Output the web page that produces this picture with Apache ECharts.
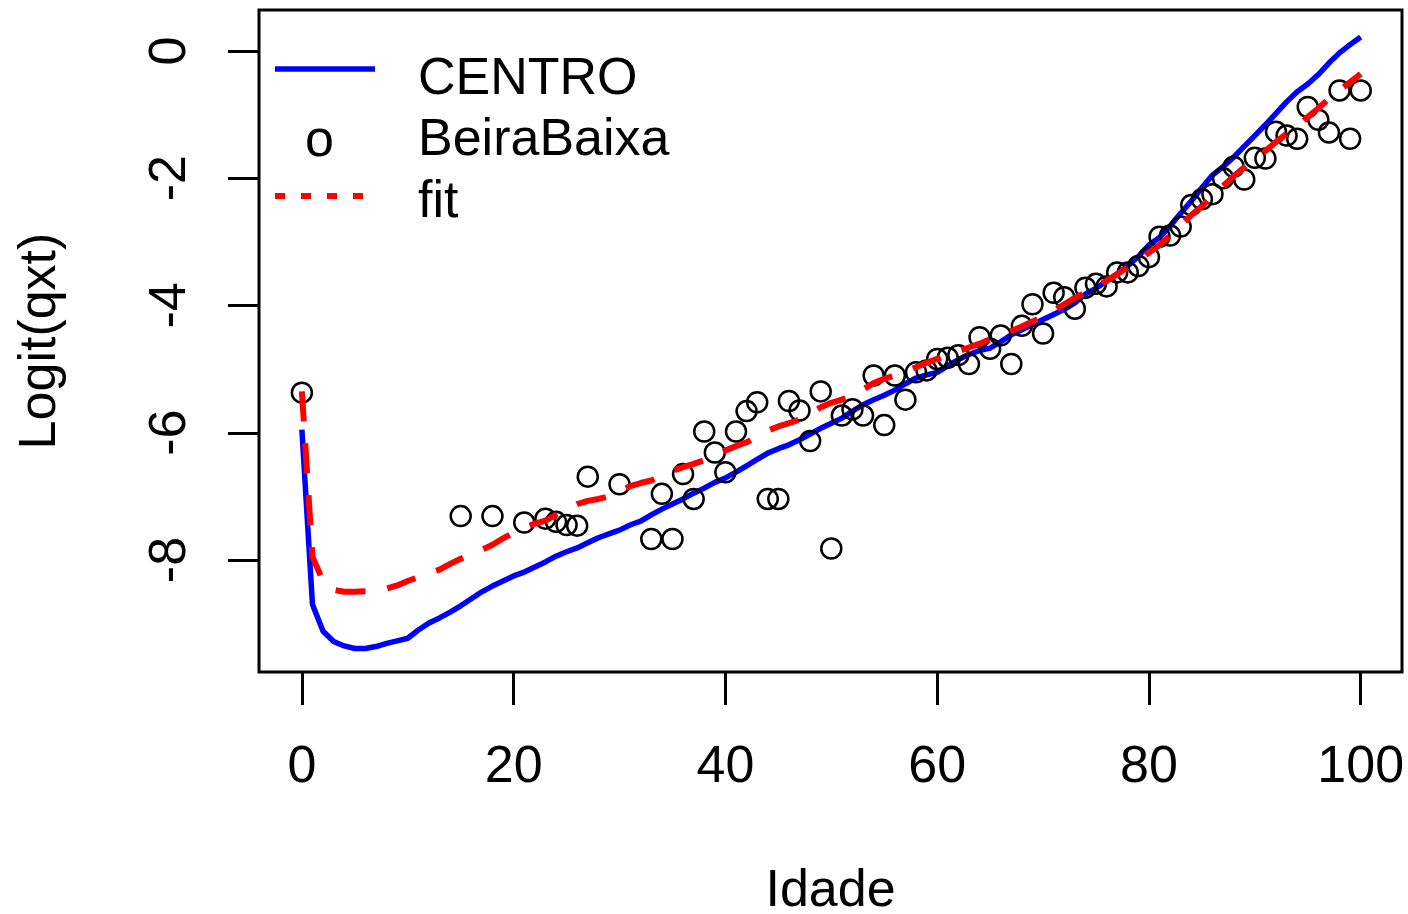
<!DOCTYPE html>
<html>
<head>
<meta charset="utf-8">
<title>Logit(qxt) por Idade</title>
<script src="https://cdn.jsdelivr.net/npm/echarts@6/dist/echarts.min.js"></script>
<style>
  html, body { margin: 0; padding: 0; background: #ffffff; }
  #chart { width: 1408px; height: 914px; }
</style>
</head>
<body>
<div id="chart"></div>
<script>
// Ages 0..100 for the two curves
const ages = Array.from({ length: 101 }, (_, i) => i);

// CENTRO region logit curve
const centroVals = [
  -5.95, -8.70, -9.12, -9.28, -9.35, -9.39, -9.39, -9.36, -9.31, -9.27,
  -9.23, -9.10, -8.99, -8.91, -8.82, -8.72, -8.61, -8.50, -8.41, -8.33,
  -8.25, -8.19, -8.11, -8.03, -7.94, -7.87, -7.81, -7.73, -7.65, -7.59,
  -7.53, -7.45, -7.39, -7.29, -7.20, -7.12, -7.04, -6.95, -6.87, -6.78,
  -6.71, -6.62, -6.52, -6.42, -6.32, -6.25, -6.19, -6.11, -6.02, -5.93,
  -5.85, -5.77, -5.66, -5.56, -5.48, -5.41, -5.33, -5.23, -5.14, -5.09,
  -5.05, -4.95, -4.85, -4.77, -4.71, -4.67, -4.57, -4.46, -4.38, -4.30,
  -4.22, -4.14, -4.06, -3.96, -3.82, -3.73, -3.62, -3.50, -3.38, -3.23,
  -3.05, -2.93, -2.75, -2.55, -2.36, -2.15, -1.95, -1.82, -1.67, -1.50,
  -1.33, -1.16, -0.98, -0.80, -0.64, -0.52, -0.37, -0.19, -0.03, 0.10,
  0.22
];

// Fitted curve for Beira Baixa
const fitVals = [
  -5.35, -7.95, -8.33, -8.47, -8.50, -8.50, -8.49, -8.48, -8.45, -8.40,
  -8.33, -8.27, -8.21, -8.15, -8.06, -7.98, -7.91, -7.84, -7.76, -7.66,
  -7.57, -7.49, -7.43, -7.38, -7.29, -7.20, -7.12, -7.07, -7.04, -7.00,
  -6.92, -6.84, -6.79, -6.75, -6.68, -6.60, -6.54, -6.49, -6.43, -6.35,
  -6.28, -6.21, -6.15, -6.06, -5.97, -5.90, -5.85, -5.79, -5.70, -5.60,
  -5.53, -5.48, -5.42, -5.32, -5.22, -5.15, -5.10, -5.04, -4.97, -4.90,
  -4.84, -4.78, -4.72, -4.66, -4.60, -4.53, -4.46, -4.40, -4.33, -4.25,
  -4.18, -4.08, -3.98, -3.88, -3.80, -3.71, -3.61, -3.51, -3.40, -3.29,
  -3.17, -3.05, -2.90, -2.74, -2.58, -2.44, -2.27, -2.12, -1.97, -1.83,
  -1.70, -1.57, -1.43, -1.30, -1.18, -1.04, -0.90, -0.75, -0.62, -0.49,
  -0.36
];

// Observed Beira Baixa values (ages with no deaths are absent)
const beiraAges = [
  0, 15, 18, 21, 23, 24, 25, 26, 27, 30,
  33, 34, 35, 36, 37, 38, 39, 40, 41, 42,
  43, 44, 45, 46, 47, 48, 49, 50, 51, 52,
  53, 54, 55, 56, 57, 58, 59, 60, 61, 62,
  63, 64, 65, 66, 67, 68, 69, 70, 71, 72,
  73, 74, 75, 76, 77, 78, 79, 80, 81, 82,
  83, 84, 85, 86, 87, 88, 89, 90, 91, 92,
  93, 94, 95, 96, 97, 98, 99, 100
];
const beiraVals = [
  -5.37, -7.31, -7.31, -7.41, -7.35, -7.40, -7.45, -7.46, -6.69, -6.81,
  -7.67, -6.96, -7.67, -6.65, -7.04, -5.98, -6.31, -6.62, -5.98, -5.66,
  -5.52, -7.04, -7.04, -5.50, -5.65, -6.13, -5.35, -7.82, -5.73, -5.63,
  -5.73, -5.10, -5.88, -5.10, -5.48, -5.05, -5.02, -4.84, -4.82, -4.78,
  -4.92, -4.50, -4.68, -4.47, -4.92, -4.32, -3.98, -4.44, -3.80, -3.87,
  -4.05, -3.72, -3.66, -3.70, -3.48, -3.48, -3.38, -3.24, -2.92, -2.90,
  -2.76, -2.42, -2.33, -2.25, -2.00, -1.82, -2.02, -1.68, -1.69, -1.27,
  -1.33, -1.38, -0.88, -1.08, -1.28, -0.62, -1.38, -0.62
];

// Axis ticks
const xTicks = [0, 20, 40, 60, 80, 100];
const yTicks = [-8, -6, -4, -2, 0];

const FONT = "'Liberation Sans', Arial, sans-serif";
const FS = 52;

const pairs = (xs, ys) => xs.map((x, i) => [x, ys[i]]);

const chart = echarts.init(document.getElementById('chart'), null, { renderer: 'canvas' });

chart.setOption({
  animation: false,
  backgroundColor: '#ffffff',
  textStyle: { fontFamily: FONT },
  grid: {
    left: 259, right: 6, top: 10, bottom: 242,
    show: true, borderColor: '#000000', borderWidth: 3,
    containLabel: false,
    outerBoundsMode: 'none'
  },
  xAxis: {
    type: 'value',
    min: -4.05, max: 103.9,
    position: 'bottom',
    name: 'Idade',
    nameLocation: 'middle',
    nameGap: 194,
    nameTextStyle: { fontFamily: FONT, fontSize: FS, color: '#000' },
    axisLine: { show: false, onZero: false },
    splitLine: { show: false },
    axisTick: {
      show: true, inside: false, length: 33,
      customValues: xTicks,
      lineStyle: { color: '#000', width: 3 }
    },
    axisLabel: {
      show: true, margin: 70,
      customValues: xTicks,
      fontFamily: FONT, fontSize: FS, color: '#000'
    }
  },
  yAxis: {
    type: 'value',
    min: -9.76, max: 0.644,
    position: 'left',
    name: 'Logit(qxt)',
    nameLocation: 'middle',
    nameRotate: 90,
    nameGap: 192,
    nameTextStyle: { fontFamily: FONT, fontSize: FS, color: '#000' },
    axisLine: { show: false, onZero: false },
    splitLine: { show: false },
    axisTick: {
      show: true, inside: false, length: 31,
      customValues: yTicks,
      lineStyle: { color: '#000', width: 3 }
    },
    axisLabel: {
      show: true, margin: 62, rotate: 90,
      customValues: yTicks,
      fontFamily: FONT, fontSize: FS, color: '#000'
    }
  },
  series: [
    {
      name: 'CENTRO',
      type: 'line',
      data: pairs(ages, centroVals),
      showSymbol: false,
      smooth: false,
      lineStyle: { color: '#0000FF', width: 5.5 },
      z: 2
    },
    {
      name: 'BeiraBaixa',
      type: 'scatter',
      data: pairs(beiraAges, beiraVals),
      symbol: 'circle',
      symbolSize: 20,
      itemStyle: { color: 'rgba(0,0,0,0)', borderColor: '#000', borderWidth: 2.5, opacity: 1 },
      z: 3
    },
    {
      name: 'fit',
      type: 'line',
      data: pairs(ages, fitVals),
      showSymbol: false,
      smooth: false,
      lineStyle: { color: '#FF0000', width: 6, type: [30, 22] },
      z: 4
    }
  ],
  graphic: [
    // legend keys
    { type: 'line', shape: { x1: 275, y1: 69, x2: 375, y2: 69 },
      style: { stroke: '#0000FF', lineWidth: 5.5 } },
    { type: 'text', left: 305, top: 116,
      style: { text: 'o', font: FS + 'px ' + FONT, fill: '#000' } },
    { type: 'line', shape: { x1: 275, y1: 196, x2: 375, y2: 196 },
      style: { stroke: '#FF0000', lineWidth: 6, lineDash: [10, 16] } },
    // legend labels
    { type: 'text', left: 418, top: 54,
      style: { text: 'CENTRO', font: FS + 'px ' + FONT, fill: '#000' } },
    { type: 'text', left: 418, top: 115,
      style: { text: 'BeiraBaixa', font: FS + 'px ' + FONT, fill: '#000' } },
    { type: 'text', left: 418, top: 177,
      style: { text: 'fit', font: FS + 'px ' + FONT, fill: '#000' } }
  ]
});
</script>
</body>
</html>
